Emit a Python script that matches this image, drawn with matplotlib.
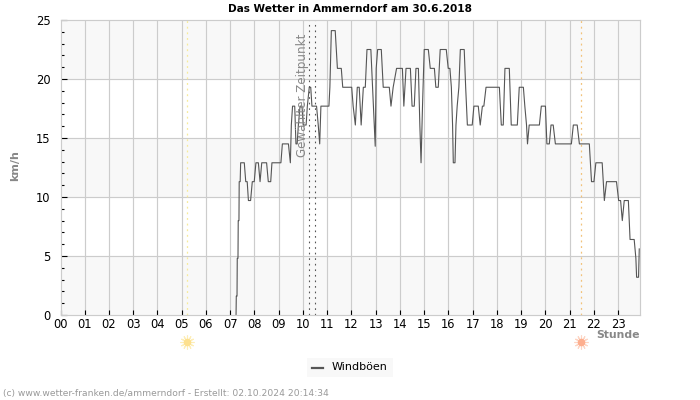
import matplotlib
matplotlib.use("Agg")
import matplotlib.pyplot as plt
from matplotlib.patches import Rectangle
from matplotlib.transforms import blended_transform_factory

# Stunde und Windboeen in km/h
stunden = [
    7.24, 7.25, 7.28, 7.29, 7.32, 7.33, 7.36, 7.37, 7.41, 7.43, 7.58, 7.64, 7.70, 7.75, 7.84,
    7.91, 7.99, 8.06, 8.16, 8.23, 8.30, 8.50, 8.57, 8.67, 8.72, 9.09, 9.15, 9.40, 9.48, 9.52, 9.57,
    9.66, 9.71, 9.76, 9.81, 9.88, 9.96, 10.01, 10.13, 10.18, 10.26, 10.32, 10.37, 10.56, 10.63, 10.69,
    10.74, 11.07, 11.11, 11.17, 11.33, 11.42, 11.58, 11.64, 12.01, 12.07, 12.16, 12.24, 12.32, 12.40,
    12.49, 12.57, 12.64, 12.80, 12.87, 12.94, 12.98, 13.02, 13.08, 13.23, 13.31, 13.56, 13.63, 13.72,
    13.86, 14.10, 14.16, 14.25, 14.43, 14.50, 14.59, 14.66, 14.76, 14.82, 14.87, 14.93, 15.00, 15.17,
    15.25, 15.42, 15.48, 15.58, 15.66, 15.91, 15.99, 16.06, 16.12, 16.17, 16.20, 16.27, 16.31, 16.36,
    16.43, 16.49, 16.65, 16.71, 16.78, 16.98, 17.05, 17.23, 17.31, 17.40, 17.46, 17.55, 18.10, 18.18,
    18.26, 18.33, 18.51, 18.59, 18.84, 18.92, 19.09, 19.15, 19.22, 19.26, 19.33, 19.75, 19.83, 20.00,
    20.06, 20.16, 20.23, 20.32, 20.41, 21.07, 21.15, 21.31, 21.40, 21.81, 21.90, 22.00, 22.08, 22.34,
    22.43, 22.52, 22.93, 23.02, 23.10, 23.17, 23.25, 23.42, 23.49, 23.66, 23.73, 23.76, 23.84, 23.87,
]
boeen = [
    0.0, 1.6, 1.6, 4.8, 4.8, 8.0, 8.0, 11.3, 11.3, 12.9, 12.9, 11.3, 11.3, 9.7, 9.7,
    11.3, 11.3, 12.9, 12.9, 11.3, 12.9, 12.9, 11.3, 11.3, 12.9, 12.9, 14.5, 14.5, 12.9, 16.1, 17.7,
    17.7, 14.5, 14.5, 16.1, 17.7, 17.7, 16.1, 16.1, 17.7, 19.3, 19.3, 17.7, 17.7, 16.1, 14.5,
    17.7, 17.7, 19.3, 24.1, 24.1, 20.9, 20.9, 19.3, 19.3, 17.7, 16.1, 19.3, 19.3, 16.1,
    19.3, 19.3, 22.5, 22.5, 19.3, 16.1, 14.3, 20.9, 22.5, 22.5, 19.3, 19.3, 17.7, 19.3,
    20.9, 20.9, 17.7, 20.9, 20.9, 17.7, 17.7, 20.9, 20.9, 16.1, 12.9, 17.7, 22.5, 22.5,
    20.9, 20.9, 19.3, 19.3, 22.5, 22.5, 20.9, 20.9, 19.3, 16.1, 12.9, 12.9, 16.1, 17.7,
    19.3, 22.5, 22.5, 19.3, 16.1, 16.1, 17.7, 17.7, 16.1, 17.7, 17.7, 19.3, 19.3, 16.1,
    16.1, 20.9, 20.9, 16.1, 16.1, 19.3, 19.3, 17.7, 16.1, 14.5, 16.1, 16.1, 17.7, 17.7,
    14.5, 14.5, 16.1, 16.1, 14.5, 14.5, 16.1, 16.1, 14.5, 14.5, 11.3, 11.3, 12.9, 12.9,
    9.7, 11.3, 11.3, 9.7, 9.7, 8.0, 9.7, 9.7, 6.4, 6.4, 4.8, 3.2, 3.2, 5.6,
]
x_labels = ["%02d" % h for h in range(24)]
y_major = [0, 5, 10, 15, 20, 25]
y_minor = [v for v in range(25) if v % 5 != 0]
baender = [(0, 5), (10, 15), (20, 25)]
zeitpunkt = [10.26, 10.51]
sonnenaufgang = 5.23
sonnenuntergang = 21.47

fig = plt.figure(figsize=(7, 4), dpi=100)
ax = fig.add_axes([60.5 / 700, 85 / 400, 579.5 / 700, 295 / 400])
ax.set_xlim(0, 23.9)
ax.set_ylim(0, 25)

for b in baender:
    ax.axhspan(b[0], b[1], color="#f8f8f8", lw=0, zorder=0)
# Gitter selbst zeichnen, damit die schwarzen Ticks darueber liegen
for h in range(1, 24):
    ax.axvline(h, color="#cccccc", lw=0.85, zorder=1)
for v in y_major[1:-1]:
    ax.axhline(v, color="#cccccc", lw=0.85, zorder=1)
ax.set_axisbelow(False)

ax.axvline(sonnenaufgang, color="#f7eb9a", lw=0.9, ls=(0, (1.5, 3)), zorder=2)
ax.axvline(sonnenuntergang, color="#f2c27a", lw=0.9, ls=(0, (1.5, 3)), zorder=2)
for z in zeitpunkt:
    ax.axvline(z, color="#555555", lw=0.8, ls=(0, (1.5, 3.5)), zorder=2)

ax.plot(stunden, boeen, color="#555555", lw=0.8, zorder=3)

ax.text(10.0, 23.85, "Gewählter Zeitpunkt", rotation=90, color="#888888", fontsize=8.6,
        ha="center", va="top", zorder=4)

ax.set_xticks(range(24))
ax.set_xticklabels(x_labels)
ax.set_yticks(y_major)
ax.set_yticks(y_minor, minor=True)
ax.tick_params(axis="x", direction="in", length=3.5, width=0.8, color="black", labelsize=8.3, pad=2)
ax.tick_params(axis="y", which="major", direction="in", length=4, width=0.8, color="black",
               labelsize=8.3, pad=7)
ax.tick_params(axis="y", which="minor", direction="in", length=2.2, width=0.8, color="black")
for s in ax.spines.values():
    s.set_color("#cccccc")
    s.set_linewidth(0.85)
    s.set_zorder(3.5)

trans = blended_transform_factory(ax.transData, ax.transAxes)
for pos, kern, strahl in [(sonnenaufgang, "#fde08e", "#fdeeb8"), (sonnenuntergang, "#fdae8e", "#fdd5c4")]:
    ax.plot([pos], [-0.09], marker=(12, 2, 0), ms=10, mew=0.8, color=strahl, transform=trans, clip_on=False)
    ax.plot([pos], [-0.09], marker="o", ms=5.5, mew=0, color=kern, transform=trans, clip_on=False)

fig.text(350 / 700, 1 - 8.5 / 400, "Das Wetter in Ammerndorf am 30.6.2018", ha="center", va="center",
         fontsize=7.6, fontweight="bold")
fig.text(15.5 / 700, 1 - 166 / 400, "km/h", rotation=90, ha="center", va="center", fontsize=8,
         fontweight="bold", color="#888888")
fig.text(639.5 / 700, 1 - 335 / 400, "Stunde", ha="right", va="center", fontsize=7.8,
         fontweight="bold", color="#888888")

# Legende
fig.patches.append(Rectangle((307 / 700, 1 - 377 / 400), 86 / 700, 19 / 400, transform=fig.transFigure,
                             facecolor="#f8f8f8", edgecolor="none"))
fig.lines.append(plt.Line2D([312 / 700, 323 / 700], [1 - 367.5 / 400, 1 - 367.5 / 400],
                            transform=fig.transFigure, color="#555555", lw=1.6))
fig.text(332 / 700, 1 - 366.5 / 400, "Windböen", ha="left", va="center", fontsize=8)

fig.text(3 / 700, 1 - 393.5 / 400, "(c) www.wetter-franken.de/ammerndorf - Erstellt: 02.10.2024 20:14:34",
         ha="left", va="center", fontsize=6.6, color="#999999")

fig.savefig("out.png", dpi=100)
